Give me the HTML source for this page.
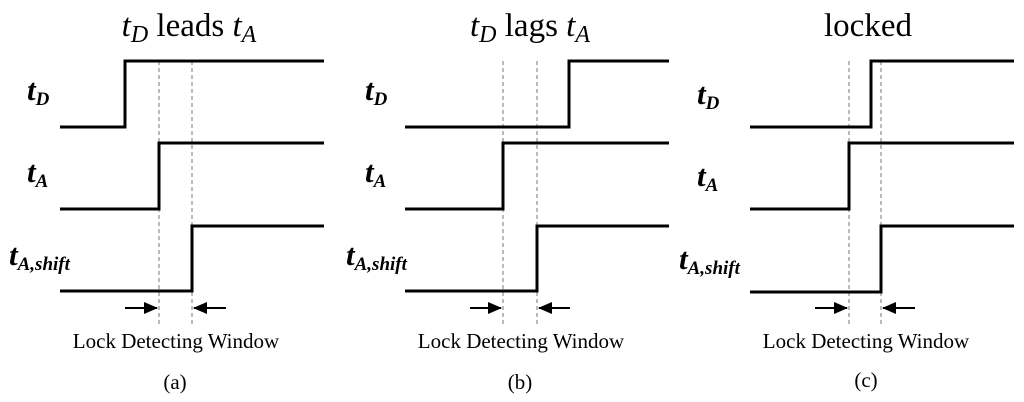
<!DOCTYPE html>
<html><head><meta charset="utf-8"><style>
html,body{margin:0;padding:0;background:#fff;}
svg{display:block;}
.lbl{font-weight:bold;font-style:italic;font-size:31px;}
.sub{font-size:19px;}
.w{stroke:#000;stroke-width:3;fill:none;}
.d{stroke:#777;stroke-width:1;stroke-dasharray:4,3;}
.a{stroke:#000;stroke-width:2;}
</style></head><body>
<svg width="1024" height="402" viewBox="0 0 1024 402" xmlns="http://www.w3.org/2000/svg" font-family="'Liberation Serif', 'DejaVu Serif', serif" style="font-family:'Liberation Serif','DejaVu Serif',serif">
<defs><marker id="ah" markerWidth="14" markerHeight="12" refX="13" refY="6" orient="auto" markerUnits="userSpaceOnUse"><path d="M0,0 L14,6 L0,12 z" fill="#000"/></marker></defs>

<!-- Titles -->
<text x="189" y="36" font-size="33" text-anchor="middle"><tspan font-style="italic">t</tspan><tspan font-style="italic" font-size="24" dy="6">D</tspan><tspan dy="-6"> leads </tspan><tspan font-style="italic">t</tspan><tspan font-style="italic" font-size="24" dy="6">A</tspan></text>
<text x="530" y="36" font-size="33" text-anchor="middle"><tspan font-style="italic">t</tspan><tspan font-style="italic" font-size="24" dy="6">D</tspan><tspan dy="-6"> lags </tspan><tspan font-style="italic">t</tspan><tspan font-style="italic" font-size="24" dy="6">A</tspan></text>
<text x="868" y="36" font-size="33" text-anchor="middle">locked</text>

<!-- Panel A -->
<g>
<text class="lbl" x="27" y="100">t<tspan class="sub" dy="5">D</tspan></text>
<text class="lbl" x="27" y="182">t<tspan class="sub" dy="5">A</tspan></text>
<text class="lbl" x="9" y="265">t<tspan class="sub" dy="5">A,shift</tspan></text>
<line class="d" x1="159" y1="61" x2="159" y2="324"/>
<line class="d" x1="192" y1="61" x2="192" y2="324"/>
<polyline class="w" points="60,127 125,127 125,61 324,61"/>
<polyline class="w" points="60,209 159,209 159,143 324,143"/>
<polyline class="w" points="60,291 192,291 192,226 324,226"/>
<line class="a" x1="125" y1="308" x2="157" y2="308" marker-end="url(#ah)"/>
<line class="a" x1="226" y1="308" x2="194" y2="308" marker-end="url(#ah)"/>
<text x="176" y="348" font-size="21" text-anchor="middle">Lock Detecting Window</text>
<text x="175" y="389" font-size="21" text-anchor="middle">(a)</text>
</g>

<!-- Panel B -->
<g>
<text class="lbl" x="365" y="100">t<tspan class="sub" dy="5">D</tspan></text>
<text class="lbl" x="365" y="182">t<tspan class="sub" dy="5">A</tspan></text>
<text class="lbl" x="346" y="265">t<tspan class="sub" dy="5">A,shift</tspan></text>
<line class="d" x1="503" y1="61" x2="503" y2="324"/>
<line class="d" x1="537" y1="61" x2="537" y2="324"/>
<polyline class="w" points="405,127 569,127 569,61 669,61"/>
<polyline class="w" points="405,209 503,209 503,143 669,143"/>
<polyline class="w" points="405,291 537,291 537,226 669,226"/>
<line class="a" x1="470" y1="308" x2="501" y2="308" marker-end="url(#ah)"/>
<line class="a" x1="570" y1="308" x2="539" y2="308" marker-end="url(#ah)"/>
<text x="521" y="348" font-size="21" text-anchor="middle">Lock Detecting Window</text>
<text x="520" y="389" font-size="21" text-anchor="middle">(b)</text>
</g>

<!-- Panel C -->
<g>
<text class="lbl" x="697" y="104">t<tspan class="sub" dy="5">D</tspan></text>
<text class="lbl" x="697" y="186">t<tspan class="sub" dy="5">A</tspan></text>
<text class="lbl" x="679" y="269">t<tspan class="sub" dy="5">A,shift</tspan></text>
<line class="d" x1="849" y1="61" x2="849" y2="324"/>
<line class="d" x1="881" y1="61" x2="881" y2="324"/>
<polyline class="w" points="750,127 871,127 871,61 1014,61"/>
<polyline class="w" points="750,209 849,209 849,143 1014,143"/>
<polyline class="w" points="750,292 881,292 881,226 1014,226"/>
<line class="a" x1="815" y1="308" x2="847" y2="308" marker-end="url(#ah)"/>
<line class="a" x1="915" y1="308" x2="883" y2="308" marker-end="url(#ah)"/>
<text x="866" y="348" font-size="21" text-anchor="middle">Lock Detecting Window</text>
<text x="866" y="387" font-size="21" text-anchor="middle">(c)</text>
</g>
</svg>
</body></html>
